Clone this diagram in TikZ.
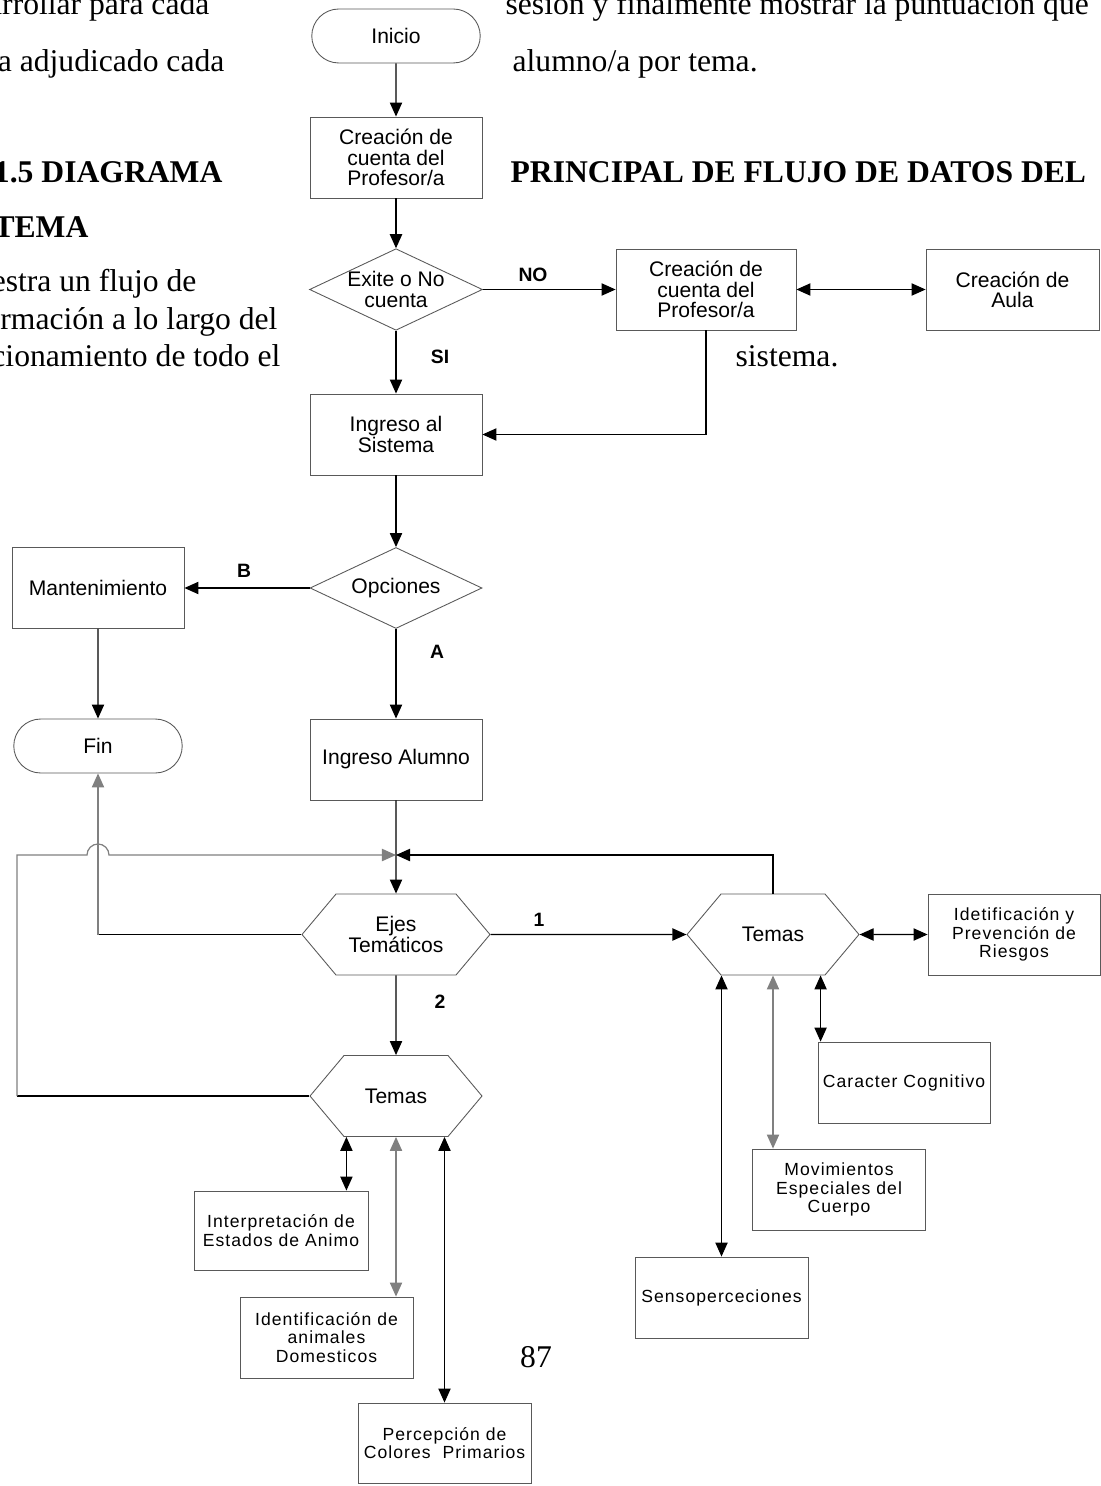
\documentclass[tikz,border=0pt]{standalone}
\usepackage{fontspec}
\setmainfont{Liberation Sans}
\newfontfamily\bodyserif{Liberation Serif}
\newfontfamily\widesans{Liberation Sans}[LetterSpace=6]
\usetikzlibrary{arrows.meta,shapes.geometric,shapes.misc,shapes.symbols,calc}

\begin{document}
\begin{tikzpicture}[x=0.02cm, y=-0.02cm, >={Triangle[length=8pt,width=7pt]}, line width=0.7pt,
    box/.style={draw=black!65, line width=0.5pt, minimum width=3.44cm, minimum height=1.62cm, inner sep=1pt, align=center, font=\fontsize{12pt}{11.5pt}\selectfont},
    term/.style={box, rounded rectangle, minimum height=1.08cm},
    dec/.style={box, diamond, aspect=2.12, inner sep=0pt},
    hexa/.style={box, signal, signal to=west and east, signal pointer angle=100},
    wbox/.style={box, font=\widesans\fontsize{10pt}{10.5pt}\selectfont},
    lbl/.style={font=\bfseries\fontsize{11pt}{11pt}\selectfont, inner sep=0pt},
    txt/.style={font=\bodyserif\fontsize{18pt}{18pt}\selectfont, inner sep=0pt},
    faint/.style={draw=black!50}]
    \useasboundingbox (0,0) rectangle (1100,1486);

    % page text around the chart
    \node[txt, anchor=base east] (T01) at (210,15) {arrollar para cada};
    \node[txt, anchor=base east] (T02) at (225,72) {a adjudicado cada};
    \node[txt, anchor=base east, font=\bodyserif\bfseries\fontsize{18pt}{18pt}\selectfont] (T03) at (223,183) {1.5 DIAGRAMA};
    \node[txt, anchor=base east, font=\bodyserif\bfseries\fontsize{18pt}{18pt}\selectfont] (T04) at (89,238) {TEMA};
    \node[txt, anchor=base east] (T05) at (197,292) {estra un flujo de};
    \node[txt, anchor=base east] (T06) at (278,330) {rmación a lo largo del};
    \node[txt, anchor=base east] (T07) at (281,367) {cionamiento de todo el};
    \node[txt, anchor=base west] (T08) at (505,15) {sesion y finalmente mostrar la puntuación que};
    \node[txt, anchor=base west] (T09) at (512,72) {alumno/a por tema.};
    \node[txt, anchor=base west, font=\bodyserif\bfseries\fontsize{18pt}{18pt}\selectfont] (T10) at (510,183) {PRINCIPAL DE FLUJO DE DATOS DEL};
    \node[txt, anchor=base west] (T11) at (735,367) {sistema.};
    \node[txt, anchor=base] (T12) at (536,1367) {87};

    \node[term] (IN) at (396,36) {Inicio};
    \node[box] (CP) at (396,157.5) {Creación de\\cuenta del\\Profesor/a};
    \node[dec] (EX) at (396,289.5) {Exite o No\\cuenta};
    \node[box, minimum width=3.6cm] (CP2) at (706,289.5) {Creación de\\cuenta del\\Profesor/a};
    \node[box, minimum width=3.46cm] (CA) at (1012.5,289.5) {Creación de\\Aula};
    \node[box] (IS) at (396,434.5) {Ingreso al\\Sistema};
    \node[dec] (OP) at (396,588) {Opciones};
    \node[box] (MA) at (98,588) {Mantenimiento};
    \node[term] (FI) at (98,746) {Fin};
    \node[box] (IA) at (396,759.5) {Ingreso Alumno};
    \node[hexa, minimum width=3.76cm] (EJ) at (396,934.5) {Ejes\\Temáticos};
    \node[hexa] (T1) at (773,934.5) {Temas};
    \node[hexa] (T2) at (396,1096) {Temas};
    \node[wbox] (IR) at (1014,934.5) {Idetificación y\\Prevención de\\Riesgos};
    \node[wbox] (CC) at (904,1082.5) {Caracter Cognitivo};
    \node[wbox, minimum width=3.46cm] (ME) at (839,1189.5) {Movimientos\\Especiales del\\Cuerpo};
    \node[wbox, minimum width=3.46cm] (SE) at (721.5,1297.5) {Sensoperceciones};
    \node[wbox, minimum width=3.48cm, minimum height=1.58cm] (IE) at (281,1230.5) {Interpretación de\\Estados de Animo};
    \node[wbox, minimum width=3.46cm] (ID) at (326.5,1337.5) {Identificación de\\animales\\Domesticos};
    \node[wbox, minimum width=3.46cm, minimum height=1.6cm] (PC) at (444.5,1443) {Percepción de\\Colores\ \ Primarios};

    \node[lbl] (LNO) at (533,275) {NO};
    \node[lbl] (LSI) at (440,357) {SI};
    \node[lbl] (LB) at (244,571) {B};
    \node[lbl] (LA) at (437,652) {A};
    \node[lbl] (L1) at (539,920) {1};
    \node[lbl] (L2) at (440,1002) {2};

    \draw[->] (IN) -- (CP);
    \draw[->] (CP) -- (EX);
    \draw[->] (EX) -- (CP2);
    \draw[<->] (CP2) -- (CA);
    \draw[->] (EX) -- (IS);
    \draw[->] (CP2.south) |- (IS.east);
    \draw[->] (IS) -- (OP);
    \draw[->] (OP) -- (MA);
    \draw[->] (OP) -- (IA);
    \draw[->] (MA) -- (FI);
    \draw[->] (IA) -- (EJ);

    % loops back to the ejes
    \coordinate (JN) at (396,855);
    \coordinate (K1) at (98,934.5);
    \coordinate (K2) at (17,1096);
    \coordinate (K3) at (17,855);
    \coordinate (H1) at (87,855);
    \draw (EJ.west) -- (K1);
    \draw[->, faint] (K1) -- (FI.south);
    \draw (T2.west) -- (K2);
    \draw[->, faint] (K2) -- (K3) -- (H1) arc[start angle=180, end angle=0, radius=0.22cm] -- (JN);
    \draw[->] (T1.north) |- (JN);

    \draw[->] (EJ) -- (T1);
    \draw[->] (EJ) -- (T2);
    \draw[<->] (T1) -- (IR);

    \coordinate (C3) at ($(CC.north west)+(3,0)$);
    \coordinate (C4) at ($(IE.north east)+(-22,0)$);
    \draw[<->] (T1.south -| SE.north) -- (SE.north);
    \draw[<->, faint] (T1.south) -- (T1.south |- ME.north);
    \draw[<->] (T1.south -| C3) -- (C3);
    \draw[<->] (T2.south -| C4) -- (C4);
    \draw[<->, faint] (T2.south) -- (T2.south |- ID.north);
    \draw[<->] (T2.south -| PC.north) -- (PC.north);
\end{tikzpicture}
\end{document}
